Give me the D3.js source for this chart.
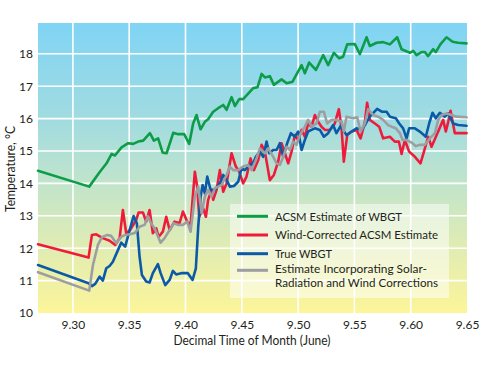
<!DOCTYPE html>
<html>
<head>
<meta charset="utf-8">
<script src="https://cdn.jsdelivr.net/npm/d3@7/dist/d3.min.js"></script>
<style>
  html, body { margin: 0; padding: 0; background: #ffffff; }
  svg { display: block; font-family: Lato, "Noto Sans", sans-serif; }
</style>
</head>
<body>
<svg id="chart" width="488" height="365"></svg>
<script>
// ---------- DATA ----------
const xTicks = [9.30, 9.35, 9.40, 9.45, 9.50, 9.55, 9.60, 9.65];
const yTicks = [10, 11, 12, 13, 14, 15, 16, 17, 18];

const greenX = [9.269,9.3145,9.3240,9.3299,9.3344,9.3373,9.3432,9.3491,9.3535,9.3580,9.3624,9.3684,9.3719,9.3757,9.3797,9.3832,9.3891,9.3935,9.3988,9.4033,9.4068,9.4098,9.4134,9.4172,9.4201,9.4246,9.4290,9.4335,9.4365,9.4409,9.4439,9.4477,9.4512,9.4601,9.4640,9.4676,9.4705,9.4749,9.4785,9.4853,9.4898,9.4951,9.5031,9.5060,9.5098,9.5158,9.5223,9.5267,9.5318,9.5365,9.5400,9.5436,9.5504,9.5549,9.5608,9.5637,9.5697,9.5755,9.5815,9.5880,9.5919,9.5993,9.6022,9.6052,9.6096,9.6126,9.6155,9.6199,9.6223,9.6265,9.6318,9.6372,9.6421,9.6496];
const greenY = [14.39,13.90,14.36,14.62,14.91,14.86,15.11,15.24,15.22,15.29,15.32,15.55,15.32,15.39,14.95,14.93,15.56,15.52,15.52,15.22,15.85,16.11,15.67,15.90,15.98,16.21,16.32,16.42,16.27,16.66,16.39,16.60,16.60,16.94,16.97,17.38,17.27,17.31,17.04,17.21,17.09,17.14,17.65,17.40,17.73,17.50,17.96,17.65,18.03,17.86,17.91,18.29,18.30,17.99,18.51,18.24,18.34,18.36,18.29,18.51,18.14,18.03,18.09,17.96,18.05,18.05,17.93,18.14,18.05,18.30,18.51,18.37,18.34,18.32];

const redX = [9.269,9.3139,9.3169,9.3207,9.3266,9.3326,9.3376,9.3415,9.3444,9.3473,9.3512,9.3562,9.3583,9.3622,9.3651,9.3681,9.3710,9.3740,9.3761,9.3799,9.3829,9.3859,9.3903,9.3947,9.3977,9.4015,9.4045,9.4083,9.4104,9.4122,9.4157,9.4181,9.4201,9.4232,9.4246,9.4276,9.4305,9.4335,9.4365,9.4409,9.4447,9.4477,9.4512,9.4542,9.4578,9.4607,9.4646,9.4676,9.4705,9.4749,9.4785,9.4823,9.4853,9.4883,9.4912,9.4942,9.4971,9.5001,9.5031,9.5060,9.5089,9.5119,9.5149,9.5178,9.5208,9.5238,9.5282,9.5326,9.5362,9.5386,9.5406,9.5436,9.5475,9.5519,9.5555,9.5593,9.5613,9.5637,9.5682,9.5720,9.5755,9.5815,9.5859,9.5895,9.5919,9.5948,9.5986,9.6037,9.6087,9.6126,9.6155,9.6185,9.6244,9.6288,9.6312,9.6333,9.6354,9.6392,9.6496];
const redY = [12.12,11.71,12.41,12.43,12.31,12.23,12.10,12.31,13.18,12.46,12.58,12.87,13.10,13.10,12.82,13.18,12.46,12.61,12.35,12.51,12.97,12.56,12.82,12.77,13.13,12.82,12.72,14.36,13.90,12.97,13.23,12.97,13.49,13.80,13.49,13.80,14.41,13.74,14.00,14.93,14.52,14.36,14.00,14.21,14.77,14.41,14.72,15.19,14.98,14.10,14.26,14.67,15.24,14.93,14.62,14.98,15.49,15.34,15.65,15.44,15.85,15.75,16.11,15.90,15.75,15.65,15.65,15.85,16.29,15.70,14.67,15.49,15.60,15.65,15.39,15.90,16.49,15.96,15.85,15.75,15.39,15.44,15.29,15.29,14.91,15.34,14.98,14.82,14.62,15.08,15.44,15.13,15.60,15.96,15.60,15.90,16.24,15.55,15.55];

const blueX = [9.269,9.3139,9.3169,9.3198,9.3237,9.3266,9.3296,9.3326,9.3355,9.3400,9.3429,9.3464,9.3504,9.3539,9.3568,9.3592,9.3613,9.3651,9.3681,9.3710,9.3755,9.3779,9.3820,9.3859,9.3888,9.3917,9.3962,9.4021,9.4063,9.4092,9.4113,9.4134,9.4152,9.4172,9.4193,9.4223,9.4261,9.4305,9.4335,9.4365,9.4394,9.4430,9.4468,9.4498,9.4527,9.4572,9.4601,9.4625,9.4661,9.4690,9.4720,9.4743,9.4779,9.4809,9.4838,9.4868,9.4903,9.4936,9.4971,9.5001,9.5031,9.5060,9.5089,9.5119,9.5149,9.5193,9.5229,9.5267,9.5311,9.5341,9.5377,9.5430,9.5475,9.5519,9.5564,9.5602,9.5637,9.5702,9.5747,9.5786,9.5815,9.5868,9.5898,9.5933,9.5963,9.5986,9.6037,9.6081,9.6134,9.6164,9.6194,9.6223,9.6259,9.6303,9.6333,9.6377,9.6421,9.6496];
const blueY = [11.48,10.92,10.83,10.90,11.12,11.00,11.38,11.45,11.58,11.94,12.17,12.05,12.56,12.99,12.77,11.74,11.17,10.97,10.94,11.23,11.51,11.23,10.86,11.02,11.30,11.19,11.23,11.23,11.02,11.38,12.66,13.59,13.95,13.69,14.21,13.80,13.80,14.00,14.26,14.10,13.90,13.92,14.05,14.47,14.41,14.57,14.62,14.82,14.98,14.82,15.29,14.93,15.03,15.03,15.24,14.82,15.24,15.55,15.44,15.60,15.03,15.34,15.60,15.65,15.70,15.65,15.44,15.55,15.80,15.55,15.77,15.49,15.60,15.70,15.65,15.85,16.06,16.30,16.21,16.21,16.06,16.01,15.85,15.70,15.39,15.70,15.70,15.60,15.44,15.85,16.18,16.01,16.18,16.06,16.16,15.85,15.80,15.78];

const grayX = [9.269,9.3145,9.3178,9.3222,9.3258,9.3305,9.3340,9.3385,9.3429,9.3464,9.3518,9.3553,9.3592,9.3637,9.3666,9.3690,9.3726,9.3779,9.3814,9.3859,9.3897,9.3932,9.3977,9.4015,9.4045,9.4083,9.4113,9.4143,9.4172,9.4201,9.4232,9.4261,9.4290,9.4320,9.4365,9.4394,9.4424,9.4468,9.4512,9.4557,9.4587,9.4625,9.4661,9.4705,9.4734,9.4779,9.4809,9.4838,9.4868,9.4898,9.4927,9.4956,9.4986,9.5016,9.5060,9.5089,9.5119,9.5164,9.5193,9.5229,9.5258,9.5297,9.5341,9.5386,9.5406,9.5430,9.5489,9.5525,9.5555,9.5593,9.5622,9.5667,9.5711,9.5755,9.5800,9.5830,9.5868,9.5904,9.5928,9.5963,9.6008,9.6046,9.6081,9.6126,9.6170,9.6215,9.6244,9.6274,9.6318,9.6363,9.6407,9.6496];
const grayY = [11.26,10.69,11.48,12.10,12.34,12.41,12.38,12.15,12.35,12.41,12.44,12.48,12.66,12.72,12.99,12.79,12.61,12.17,12.31,12.56,12.77,12.72,12.72,12.82,12.51,13.59,13.90,13.08,13.59,13.80,13.59,13.85,13.90,13.95,14.26,14.52,14.41,14.41,14.52,14.57,14.41,14.72,15.08,14.93,15.08,14.82,14.62,14.57,14.82,15.13,15.03,15.29,15.19,15.49,15.75,15.96,15.75,15.85,16.21,16.21,15.85,15.96,15.96,15.90,15.60,16.06,16.01,16.04,15.60,15.85,16.29,16.11,16.06,15.96,15.80,15.75,15.70,15.55,15.34,15.34,15.26,15.15,15.19,15.19,15.39,15.55,15.96,16.11,16.16,16.11,16.06,16.04];

const seriesNames = ["ACSM Estimate of WBGT", "Wind-Corrected ACSM Estimate", "True WBGT", "Estimate Incorporating Solar-|Radiation and Wind Corrections"];
const seriesColors = ["#0d9d48", "#ee1c3a", "#0b5aa8", "#9d9ea2"];

// ---------- LAYOUT ----------
const svg = d3.select("#chart");
const L = 38, R = 467, T = 23, B = 313;
const x = d3.scaleLinear().domain([9.269, 9.65]).range([L, R]);
const y = d3.scaleLinear().domain([10, 18.95]).range([B, T]);

// background gradient
const defs = svg.append("defs");
const grad = defs.append("linearGradient").attr("id", "bg")
  .attr("x1", 0).attr("y1", 0).attr("x2", 0).attr("y2", 1);
[["0%", "#80d4f5"], ["35%", "#a3dcdf"], ["60%", "#c8e6c6"], ["80%", "#e4edb0"], ["100%", "#fcf599"]]
  .forEach(([o, c]) => grad.append("stop").attr("offset", o).attr("stop-color", c));
svg.append("rect").attr("x", L).attr("y", T).attr("width", R - L).attr("height", B - T).attr("fill", "url(#bg)");

// grid
const grid = svg.append("g").attr("stroke", "#ffffff").attr("stroke-width", 1.6);
yTicks.filter(v => v > 10).forEach(v => grid.append("line").attr("x1", L).attr("x2", R).attr("y1", y(v)).attr("y2", y(v)));
xTicks.filter(v => v < 9.65).forEach(v => grid.append("line").attr("y1", T).attr("y2", B).attr("x1", x(v)).attr("x2", x(v)));

// axes (labels only)
const yAxis = d3.axisLeft(y).tickValues(yTicks).tickSize(0).tickPadding(5).tickFormat(d3.format("d"));
const gy = svg.append("g").attr("transform", `translate(${L},0)`).call(yAxis);
gy.select(".domain").remove();
gy.selectAll("text").attr("font-size", 12).attr("fill", "#231f20").attr("font-family", "Lato");

const xAxis = d3.axisBottom(x).tickValues(xTicks).tickSize(0).tickPadding(7).tickFormat(d3.format(".2f"));
const gx = svg.append("g").attr("transform", `translate(0,${B})`).call(xAxis);
gx.select(".domain").remove();
gx.selectAll("text").attr("font-size", 12).attr("fill", "#231f20").attr("font-family", "Lato");

// axis titles
svg.append("text").attr("x", 252).attr("y", 345).attr("text-anchor", "middle")
  .attr("font-size", 12.5).attr("fill", "#231f20").attr("textLength", 157).attr("lengthAdjust", "spacingAndGlyphs")
  .text("Decimal Time of Month (June)");
svg.append("text").attr("transform", "translate(15,169) rotate(-90)").attr("text-anchor", "middle")
  .attr("font-size", 12.5).attr("fill", "#231f20").attr("textLength", 86).attr("lengthAdjust", "spacingAndGlyphs")
  .text("Temperature, °C");

// lines
const line = d3.line().x(d => x(d[0])).y(d => y(d[1]));
const allSeries = [[greenX, greenY], [redX, redY], [blueX, blueY], [grayX, grayY]];
allSeries.forEach(([xs, ys], i) => {
  svg.append("path").datum(xs.map((v, j) => [v, ys[j]]))
    .attr("d", line).attr("fill", "none").attr("stroke", seriesColors[i])
    .attr("stroke-width", 2.6).attr("stroke-linejoin", "round").attr("stroke-linecap", "round");
});

// legend
const lg = svg.append("g");
lg.append("rect").attr("x", 230).attr("y", 204).attr("width", 219).attr("height", 94)
  .attr("fill", "#ffffff").attr("fill-opacity", 0.5);
const rowY = [216.3, 235, 253.7, 270.3];
const textW = [[127], [163], [57], [152, 163]];
seriesNames.forEach((name, i) => {
  lg.append("line").attr("x1", 237).attr("x2", 268).attr("y1", rowY[i]).attr("y2", rowY[i])
    .attr("stroke", seriesColors[i]).attr("stroke-width", 3);
  const parts = name.split("|");
  parts.forEach((p, k) => {
    lg.append("text").attr("x", 275).attr("y", (i === 3 ? 268.8 + k * 13.9 : rowY[i]) + 4.2)
      .attr("font-size", 11.5).attr("fill", "#231f20").attr("font-family", "Lato")
      .attr("textLength", textW[i][k]).attr("lengthAdjust", "spacingAndGlyphs")
      .text(p);
  });
});
</script>
</body>
</html>
